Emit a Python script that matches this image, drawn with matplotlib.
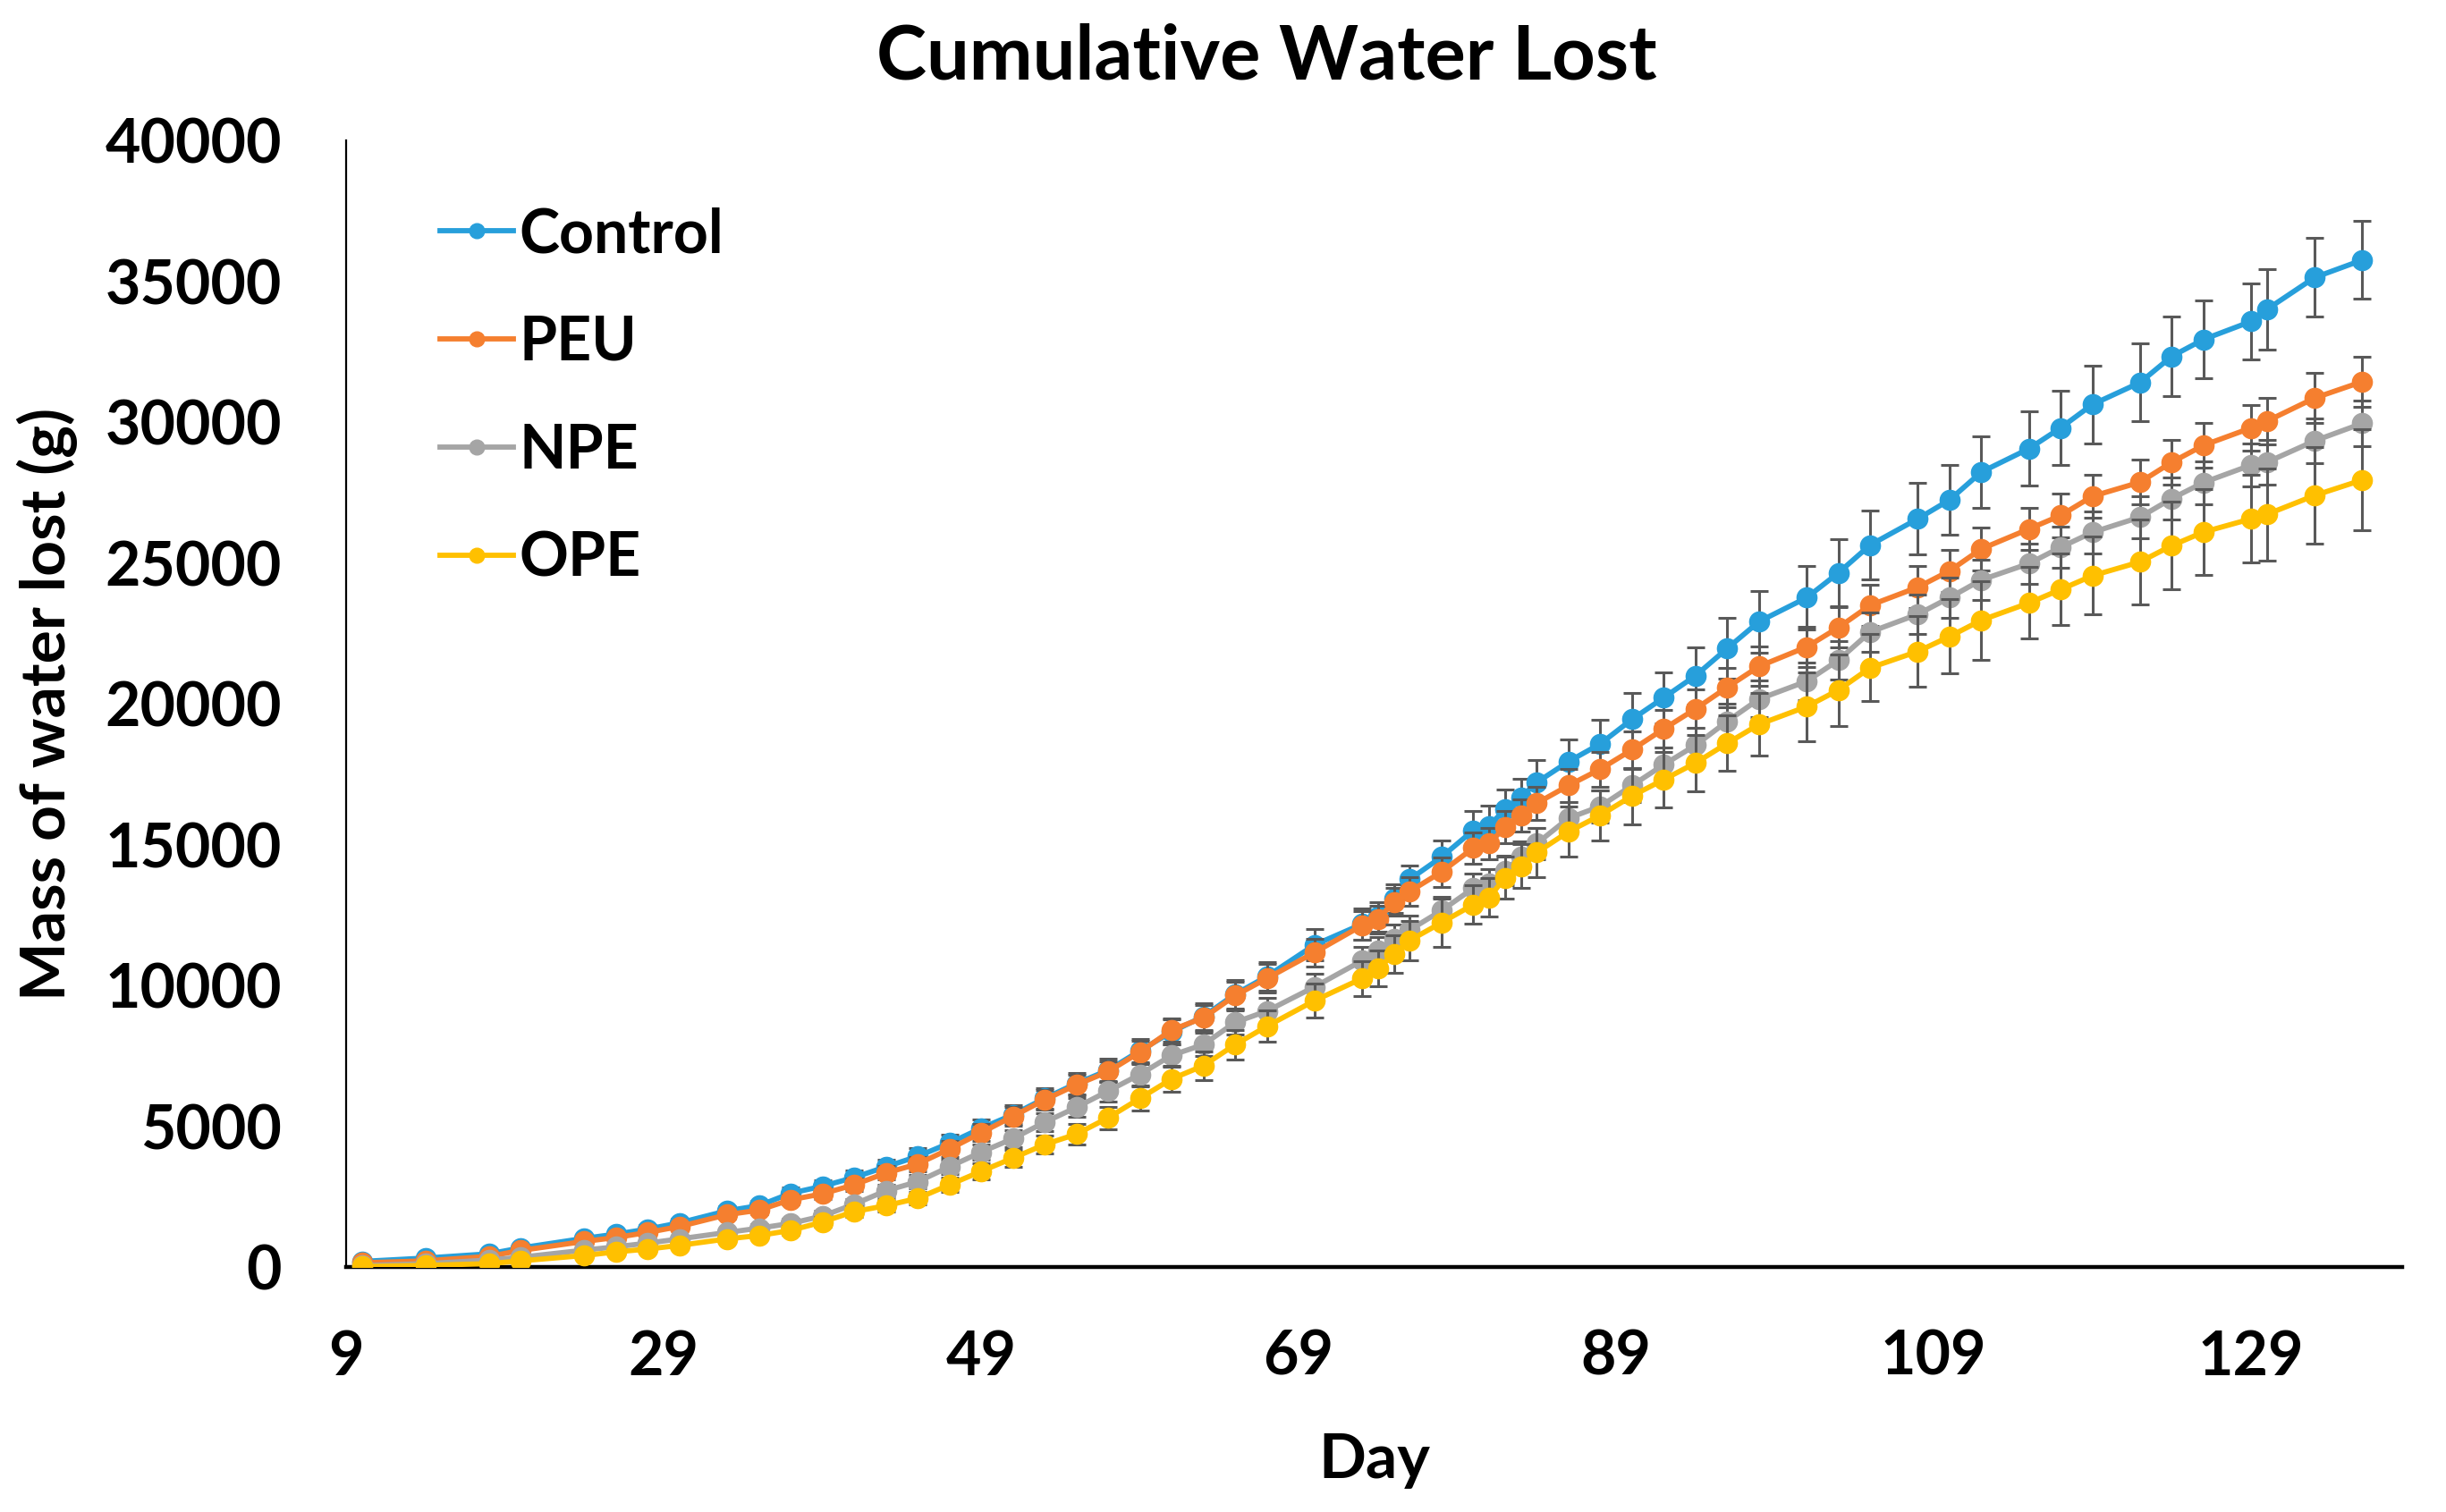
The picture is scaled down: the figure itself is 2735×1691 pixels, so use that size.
import matplotlib
matplotlib.use("Agg")
import matplotlib.pyplot as plt
import numpy as np

plt.rcParams['font.family'] = ['Lato', 'DejaVu Sans']
plt.rcParams['font.weight'] = 'bold'

# 测量日 (day)
days = [10, 14, 18, 20, 24, 26, 28, 30, 33, 35,
        37, 39, 41, 43, 45, 47, 49, 51, 53, 55,
        57, 59, 61, 63, 65, 67, 70, 73, 74, 75,
        76, 78, 80, 81, 82, 83, 84, 86, 88, 90,
        92, 94, 96, 98, 101, 103, 105, 108, 110, 112,
        115, 117, 119, 122, 124, 126, 129, 130, 133, 136]

# cumulative water lost, in thousands of g
control = [0.20, 0.32, 0.47, 0.68, 1.02, 1.17, 1.35, 1.57, 2.00, 2.18,
           2.62, 2.87, 3.18, 3.56, 3.93, 4.40, 4.93, 5.41, 5.99, 6.52,
           6.99, 7.68, 8.35, 8.90, 9.69, 10.32, 11.44, 12.18, 12.44, 13.08,
           13.77, 14.56, 15.51, 15.67, 16.25, 16.68, 17.21, 17.95, 18.58, 19.45,
           20.22, 21.00, 21.97, 22.92, 23.77, 24.65, 25.64, 26.57, 27.24, 28.23,
           29.06, 29.80, 30.63, 31.41, 32.34, 32.94, 33.58, 34.01, 35.14, 35.76]
peu = [0.15, 0.22, 0.38, 0.59, 0.91, 1.05, 1.23, 1.44, 1.86, 2.02,
       2.39, 2.60, 2.92, 3.34, 3.66, 4.19, 4.77, 5.35, 5.94, 6.47,
       6.94, 7.63, 8.42, 8.85, 9.64, 10.25, 11.17, 12.13, 12.34, 12.97,
       13.34, 14.03, 14.88, 15.04, 15.62, 16.04, 16.47, 17.10, 17.68, 18.37,
       19.11, 19.82, 20.59, 21.33, 22.02, 22.71, 23.50, 24.14, 24.72, 25.50,
       26.21, 26.69, 27.37, 27.87, 28.58, 29.18, 29.80, 30.04, 30.86, 31.44]
npe = [0.05, 0.12, 0.25, 0.35, 0.60, 0.72, 0.85, 1.00, 1.23, 1.38,
       1.55, 1.81, 2.23, 2.71, 3.03, 3.56, 4.08, 4.56, 5.14, 5.67,
       6.25, 6.84, 7.52, 7.90, 8.69, 9.09, 9.95, 10.88, 11.23, 11.65,
       11.97, 12.66, 13.45, 13.61, 14.08, 14.56, 15.04, 15.94, 16.36, 17.10,
       17.84, 18.53, 19.38, 20.17, 20.80, 21.55, 22.55, 23.18, 23.77, 24.40,
       24.98, 25.56, 26.09, 26.63, 27.29, 27.86, 28.48, 28.58, 29.34, 29.96]
ope = [0.02, 0.06, 0.12, 0.22, 0.41, 0.54, 0.64, 0.77, 1.00, 1.12,
       1.30, 1.60, 1.97, 2.18, 2.44, 2.92, 3.40, 3.87, 4.35, 4.72,
       5.30, 5.99, 6.68, 7.15, 7.90, 8.55, 9.46, 10.25, 10.60, 11.12,
       11.60, 12.23, 12.87, 13.13, 13.82, 14.24, 14.72, 15.46, 16.04, 16.73,
       17.31, 17.90, 18.60, 19.27, 19.90, 20.49, 21.28, 21.86, 22.39, 22.97,
       23.58, 24.06, 24.55, 25.04, 25.62, 26.10, 26.57, 26.73, 27.40, 27.95]

# standard deviations (thousands of g)
control_sd = [0.05, 0.06, 0.08, 0.10, 0.12, 0.13, 0.14, 0.15, 0.17, 0.18,
              0.20, 0.22, 0.24, 0.26, 0.28, 0.30, 0.32, 0.34, 0.36, 0.38,
              0.40, 0.42, 0.45, 0.47, 0.50, 0.52, 0.55, 0.55, 0.52, 0.50,
              0.48, 0.58, 0.69, 0.72, 0.72, 0.67, 0.79, 0.79, 0.85, 0.93,
              0.90, 1.02, 1.09, 1.09, 1.13, 1.19, 1.23, 1.27, 1.24, 1.27,
              1.32, 1.32, 1.39, 1.38, 1.40, 1.39, 1.35, 1.43, 1.40, 1.38]
peu_sd = [0.04, 0.05, 0.06, 0.08, 0.10, 0.11, 0.12, 0.13, 0.15, 0.16,
          0.18, 0.20, 0.22, 0.24, 0.26, 0.28, 0.30, 0.32, 0.34, 0.36,
          0.38, 0.40, 0.42, 0.45, 0.48, 0.50, 0.50, 0.50, 0.50, 0.50,
          0.50, 0.52, 0.55, 0.55, 0.56, 0.57, 0.58, 0.60, 0.62, 0.64,
          0.66, 0.68, 0.70, 0.70, 0.72, 0.72, 0.74, 0.75, 0.76, 0.76,
          0.75, 0.78, 0.76, 0.80, 0.78, 0.78, 0.80, 0.82, 0.90, 0.90]
npe_sd = [0.03, 0.04, 0.05, 0.06, 0.08, 0.09, 0.10, 0.11, 0.13, 0.14,
          0.16, 0.18, 0.20, 0.22, 0.24, 0.26, 0.28, 0.30, 0.32, 0.34,
          0.36, 0.38, 0.40, 0.42, 0.44, 0.46, 0.48, 0.50, 0.50, 0.50,
          0.50, 0.50, 0.52, 0.52, 0.53, 0.54, 0.55, 0.56, 0.58, 0.60,
          0.60, 0.62, 0.64, 0.65, 0.66, 0.68, 0.70, 0.70, 0.72, 0.72,
          0.72, 0.74, 0.74, 0.75, 0.76, 0.76, 0.76, 0.78, 0.78, 0.80]
ope_sd = [0.02, 0.03, 0.04, 0.05, 0.07, 0.08, 0.09, 0.10, 0.12, 0.13,
          0.15, 0.17, 0.19, 0.21, 0.23, 0.25, 0.28, 0.30, 0.33, 0.36,
          0.40, 0.43, 0.46, 0.50, 0.53, 0.56, 0.60, 0.62, 0.64, 0.66,
          0.70, 0.85, 0.69, 0.69, 0.74, 0.79, 0.87, 0.90, 0.90, 1.00,
          0.98, 1.00, 0.98, 1.11, 1.22, 1.27, 1.19, 1.25, 1.32, 1.40,
          1.27, 1.27, 1.38, 1.50, 1.56, 1.53, 1.56, 1.64, 1.72, 1.80]

series_names = ['Control', 'PEU', 'NPE', 'OPE']
series_colors = ['#279FDB', '#F57F2F', '#A5A5A5', '#FFC000']
x_ticks = [9, 29, 49, 69, 89, 109, 129]
y_ticks = [0, 5000, 10000, 15000, 20000, 25000, 30000, 35000, 40000]

fig = plt.figure(figsize=(27.35, 16.91), dpi=100)
ax = fig.add_axes([0.1415, 0.162, 0.8405, 0.745])

all_means = [control, peu, npe, ope]
all_sds = [control_sd, peu_sd, npe_sd, ope_sd]
for i, (name, color) in enumerate(zip(series_names, series_colors)):
    y = np.array(all_means[i]) * 1000
    err = np.array(all_sds[i]) * 1000
    ax.errorbar(days, y, yerr=err, fmt='none', ecolor='#595959',
                elinewidth=2.2, capsize=7, capthick=2.2, zorder=2 + i * 2)
    ax.plot(days, y, '-o', color=color, linewidth=4.2, markersize=16,
            label=name, zorder=3 + i * 2)

ax.set_xlim(9, 138.5)
ax.set_ylim(0, 40000)
ax.set_xticks(x_ticks)
ax.set_yticks(y_ticks)
ax.set_yticklabels([str(v) for v in y_ticks])
ax.tick_params(axis='both', length=0, labelsize=49)
ax.tick_params(axis='x', pad=50)
ax.tick_params(axis='y', pad=52)
for lab in ax.get_xticklabels() + ax.get_yticklabels():
    lab.set_fontweight('bold')

ax.spines['top'].set_visible(False)
ax.spines['right'].set_visible(False)
ax.spines['left'].set_linewidth(1.6)
ax.spines['bottom'].set_linewidth(3.2)

ax.set_xlabel('Day', fontsize=50, fontweight='bold', labelpad=38)
ax.set_ylabel('Mass of water lost (g)', fontsize=50, fontweight='bold', labelpad=22)
fig.suptitle('Cumulative Water Lost', fontsize=61, fontweight='bold', x=0.518, y=0.985)

leg = ax.legend(loc='upper left', bbox_to_anchor=(0.019, 0.99), frameon=False,
                fontsize=49, handlelength=1.2, handletextpad=0.1,
                labelspacing=0.85, markerscale=0.75)
for t in leg.get_texts():
    t.set_fontweight('bold')

plt.savefig('out.png', dpi=100)
